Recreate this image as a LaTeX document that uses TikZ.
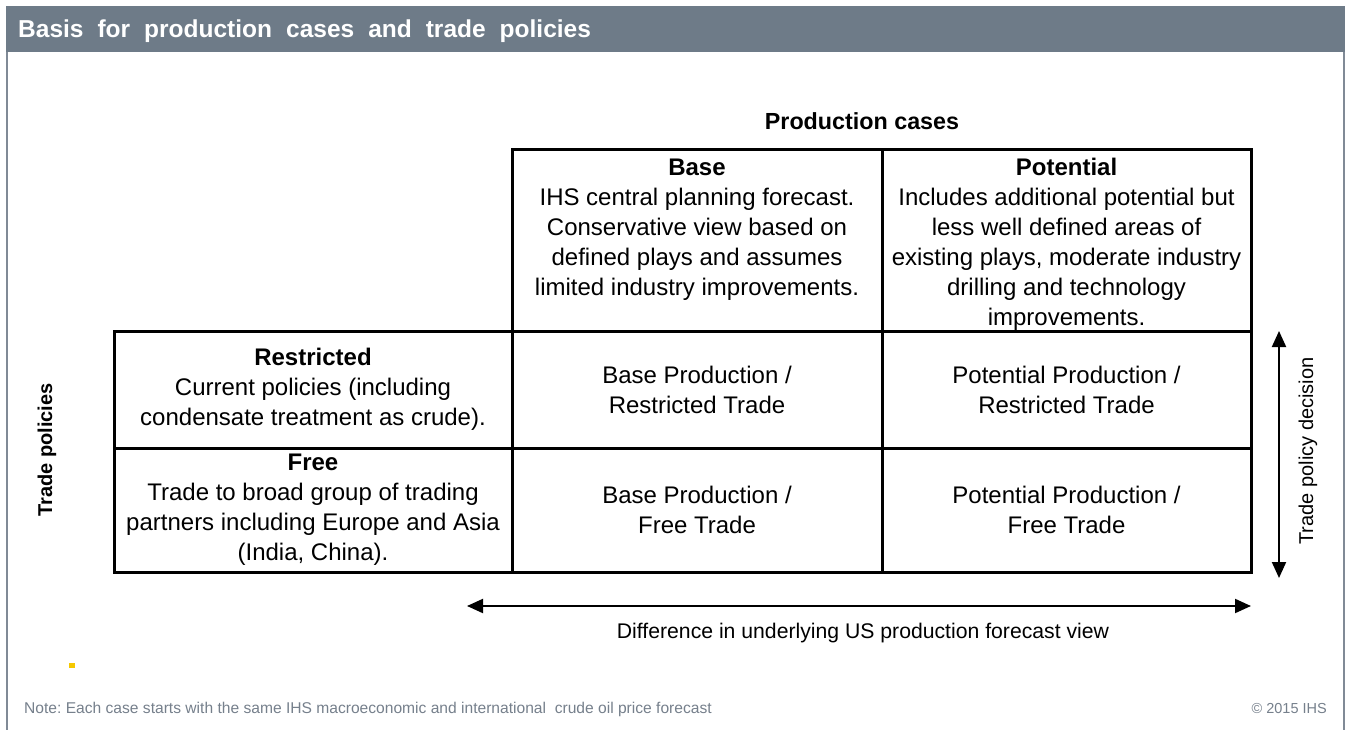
\documentclass[tikz,border=0pt]{standalone}
\usepackage{fontspec}
\setmainfont{Liberation Sans}
\usetikzlibrary{arrows.meta}
\definecolor{hdr}{RGB}{110,123,136}
\definecolor{frm}{RGB}{128,138,150}
\definecolor{notec}{RGB}{118,128,140}
\definecolor{dotyel}{RGB}{245,200,0}
\newcommand{\widesp}{\spaceskip=14pt\relax}
\frenchspacing
\begin{document}
\begin{tikzpicture}[x=1pt,y=-1pt,
  cell/.style={draw=black,line width=3pt,inner sep=0pt,minimum width=#1},
  body/.style={font=\fontsize{24}{30}\selectfont,align=center,inner sep=0pt,text=black},
  dblarrow/.style={{Triangle[length=16pt,width=14pt]}-{Triangle[length=16pt,width=14pt]},line width=2pt,black},
  frameline/.style={draw=frm,line width=2pt}
]
\useasboundingbox (0,0) rectangle (1349,730);
\fill[white] (0,0) rectangle (1349,730);
% header
\fill[hdr] (6,6) rectangle (1345,52);
\draw[frameline] (7,52) -- (7,730);
\draw[frameline] (1344,52) -- (1344,730);
\node[anchor=west,text=white,inner sep=0pt,font=\bfseries\fontsize{24.5}{28}\selectfont] (title) at (18,31) {\widesp Basis for production cases and trade policies};

% column headings
\node[font=\bfseries\fontsize{23.3}{28}\selectfont,inner sep=0pt] (prodcases) at (862,121) {Production cases};

% cells
\node[cell=370pt,minimum height=181pt] (basehdr) at (697,240.5) {};
\node[cell=369pt,minimum height=181pt] (pothdr) at (1066.5,240.5) {};
\node[cell=398pt,minimum height=117pt] (restr) at (313,389.5) {};
\node[cell=398pt,minimum height=124pt] (free) at (313,510) {};
\node[cell=370pt,minimum height=117pt] (br) at (697,389.5) {};
\node[cell=369pt,minimum height=117pt] (pr) at (1066.5,389.5) {};
\node[cell=370pt,minimum height=124pt] (bf) at (697,510) {};
\node[cell=369pt,minimum height=124pt] (pf) at (1066.5,510) {};

% header cell texts
\node[body,anchor=north] (basetxt) at ([yshift=-10pt]basehdr.north) {\textbf{Base}\\IHS central planning forecast.\\Conservative view based on\\defined plays and assumes\\limited industry improvements.};
\node[body,anchor=north] (pottxt) at ([yshift=-9pt]pothdr.north) {\textbf{Potential}\\Includes additional potential but\\less well defined areas of\\existing plays, moderate industry\\drilling and technology\\improvements.};

% row cell texts
\node[body] (restrtxt) at (restr) {\textbf{Restricted}\\Current policies (including\\condensate treatment as crude).};
\node[body] (freetxt) at (free) {\textbf{Free}\\Trade to broad group of trading\\partners including Europe and Asia\\(India, China).};
\node[body] (brtxt) at (br) {Base Production /\\Restricted Trade};
\node[body] (prtxt) at (pr) {Potential Production /\\Restricted Trade};
\node[body] (bftxt) at (bf) {Base Production /\\Free Trade};
\node[body] (pftxt) at (pf) {Potential Production /\\Free Trade};

% side labels
\node[rotate=90,font=\bfseries\fontsize{20}{24}\selectfont,inner sep=0pt] (tradepol) at (47,450) {Trade policies};
\node[rotate=90,font=\fontsize{20}{24}\selectfont,inner sep=0pt] (tpdec) at (1308,451) {Trade policy decision};

% arrows
\coordinate (vtop) at (1279,331);
\coordinate (vbot) at (1279,578);
\draw[dblarrow] (vtop) -- (vbot);
\coordinate (hl) at (467,606);
\coordinate (hr) at (1251,606);
\draw[dblarrow] (hl) -- (hr);
\node[font=\fontsize{21.2}{24}\selectfont,inner sep=0pt] (diff) at (863,633) {Difference in underlying US production forecast view};

% small marker
\fill[dotyel] (69,663) rectangle (75,668);

% footer
\node[anchor=west,text=notec,inner sep=0pt,font=\fontsize{15.6}{18}\selectfont] (note) at (24,709) {Note: Each case starts with the same IHS macroeconomic and international\ \ crude oil price forecast};
\node[anchor=east,text=notec,inner sep=0pt,font=\fontsize{14.5}{16}\selectfont] (copy) at (1327,709) {\textcopyright\ 2015 IHS};
\end{tikzpicture}
\end{document}
